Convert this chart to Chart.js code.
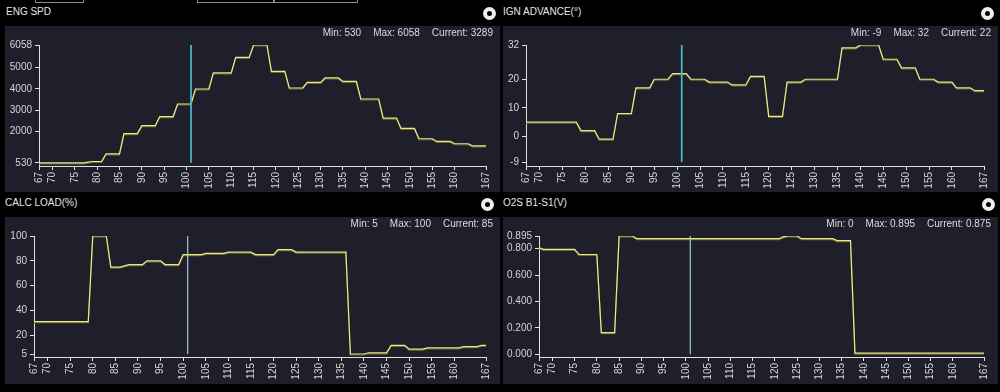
<!DOCTYPE html>
<html>
<head>
<meta charset="utf-8">
<script src="https://cdn.jsdelivr.net/npm/chart.js@4.4.1/dist/chart.umd.min.js"></script>
<style>
  body { margin:0; background:#000; width:1000px; height:392px; overflow:hidden; position:relative;
         font-family:"Liberation Sans", Arial, sans-serif; color:#e6e6e6; }
  .tab { position:absolute; top:-19px; height:20px; border:1px solid #8c8c8c; }
  .title { position:absolute; font-size:10px; line-height:13px; white-space:nowrap; }
  .panel { position:absolute; width:495px; background:#1f1e2b; }
  .panel canvas { position:absolute; left:0; top:0; }
  .stats { position:absolute; right:7px; top:0; font-size:10px; line-height:13px; color:#dcdcdc; white-space:nowrap; }
  .stats span { margin-left:12px; }
  .dot { position:absolute; width:5px; height:5px; border:4px solid #eeeeee; border-radius:50%; background:#000; }
</style>
</head>
<body>
<div class="tab" style="left:35px;width:47px"></div>
<div class="tab" style="left:197px;width:75px"></div>
<div class="tab" style="left:274px;width:82px"></div>

<div class="title" style="left:6px;top:5px">ENG SPD</div>
<div class="dot" style="left:483px;top:7px"></div>
<div class="panel" style="left:5px;top:26px;height:166px">
  <canvas id="engChart" width="495" height="166"></canvas>
  <div class="stats"><span>Min: 530</span><span>Max: 6058</span><span>Current: 3289</span></div>
</div>

<div class="title" style="left:503px;top:5px">IGN ADVANCE(°)</div>
<div class="dot" style="left:981px;top:7px"></div>
<div class="panel" style="left:503px;top:26px;height:166px">
  <canvas id="ignChart" width="495" height="166"></canvas>
  <div class="stats"><span>Min: -9</span><span>Max: 32</span><span>Current: 22</span></div>
</div>

<div class="title" style="left:5px;top:196px">CALC LOAD(%)</div>
<div class="dot" style="left:481px;top:198px"></div>
<div class="panel" style="left:5px;top:217px;height:167px">
  <canvas id="loadChart" width="495" height="167"></canvas>
  <div class="stats"><span>Min: 5</span><span>Max: 100</span><span>Current: 85</span></div>
</div>

<div class="title" style="left:503px;top:196px">O2S B1-S1(V)</div>
<div class="dot" style="left:982px;top:198px"></div>
<div class="panel" style="left:503px;top:217px;height:167px">
  <canvas id="o2sChart" width="495" height="167"></canvas>
  <div class="stats"><span>Min: 0</span><span>Max: 0.895</span><span>Current: 0.875</span></div>
</div>

<script>
// sample index (x axis)
var timeIdx = [67,68,69,70,71,72,73,74,75,76,77,78,79,80,81,82,83,84,85,86,87,88,89,90,
  91,92,93,94,95,96,97,98,99,100,101,102,103,104,105,106,107,108,109,110,111,112,113,114,115,
  116,117,118,119,120,121,122,123,124,125,126,127,128,129,130,131,132,133,134,135,136,137,138,
  139,140,141,142,143,144,145,146,147,148,149,150,151,152,153,154,155,156,157,158,159,160,161,
  162,163,164,165,166,167];
var xTicks = [67,70,75,80,85,90,95,100,105,110,115,120,125,130,135,140,145,150,155,160,167];
var cursorAt = 101;

var engSpd = [530,530,530,530,530,530,530,530,530,530,530,560,590,590,590,
  950,950,950,950,1900,1900,1900,1900,2270,2270,2270,2270,2700,2700,2700,2700,
  3289,3289,3289,3289,3994,3994,3994,3994,4746,4746,4746,4746,4746,5479,5479,5479,5479,
  6058,6058,6058,6058,4821,4821,4821,4821,4041,4041,4041,4041,4304,4304,4304,4304,
  4511,4511,4511,4511,4351,4351,4351,4351,3524,3524,3524,3524,3524,2631,2631,2631,2631,
  2142,2142,2142,2142,1658,1658,1658,1658,1531,1531,1531,1531,1423,1423,1423,1423,
  1329,1329,1329,1329];
var engTicks = [530,2000,3000,4000,5000,6058];

var ignAdv = [5,5,5,5,5,5,5,5,5,5,5,5,2,2,2,2,-1,-1,-1,-1,8,8,8,8,17,17,17,17,
  20,20,20,20,22,22,22,22,20,20,20,20,19,19,19,19,19,18,18,18,18,21,21,21,21,
  7,7,7,7,19,19,19,19,20,20,20,20,20,20,20,20,31,31,31,31,32,32,32,32,32,
  27,27,27,27,24,24,24,24,20,20,20,20,19,19,19,19,17,17,17,17,16,16,16];
var ignTicks = [-9,0,10,20,32];

var calcLoad = [31,31,31,31,31,31,31,31,31,31,31,31,31,100,100,100,100,75,75,75,76,
  77,77,77,77,80,80,80,80,77,77,77,77,85,85,85,85,85,86,86,86,86,86,87,87,87,87,87,87,
  85,85,85,85,85,89,89,89,89,87,87,87,87,87,87,87,87,87,87,87,87,
  5,5,5,5,6,6,6,6,6,12,12,12,12,9,9,9,9,10,10,10,10,10,10,10,10,11,11,11,11,12,12];
var loadTicks = [5,20,40,60,80,100];

var o2sVolt = [0.807,0.794,0.794,0.794,0.794,0.794,0.794,0.794,0.794,
  0.755,0.755,0.755,0.755,0.755,0.165,0.165,0.165,0.165,0.895,0.895,0.895,0.895,
  0.875,0.875,0.875,0.875,0.875,0.875,0.875,0.875,0.875,0.875,0.875,0.875,0.875,0.875,0.875,
  0.875,0.875,0.875,0.875,0.875,0.875,0.875,0.875,0.875,0.875,0.875,0.875,0.875,0.875,0.875,
  0.875,0.875,0.875,0.89,0.895,0.895,0.895,0.875,0.875,0.875,0.875,0.875,0.875,0.875,0.875,
  0.86,0.86,0.86,0.86,
  0.01,0.01,0.01,0.01,0.01,0.01,0.01,0.01,0.01,0.01,0.01,0.01,0.01,0.01,0.01,
  0.01,0.01,0.01,0.01,0.01,0.01,0.01,0.01,0.01,0.01,0.01,0.01,0.01,0.01,0.01];
var o2sTicks = [0,0.2,0.4,0.6,0.8,0.895];

Chart.defaults.font.family = '"Liberation Sans", Arial, sans-serif';
Chart.defaults.font.size = 10;

// dark olive edge under the yellow trace
var lineShadow = {
  id: 'lineShadow',
  beforeDatasetDraw: function(chart, args) {
    if (args.index !== 1) return;
    var c = chart.ctx;
    c.save();
    c.shadowColor = '#6f6c2e';
    c.shadowOffsetX = 0;
    c.shadowOffsetY = 1;
    c.shadowBlur = 0;
  },
  afterDatasetDraw: function(chart, args) {
    if (args.index === 1) chart.ctx.restore();
  }
};

function drawPanel(id, values, yTicks, yMin, yMax, axisWidth, xHeight, fmt, cursorColor, cursorWidth) {
  var points = timeIdx.map(function(t, i) { return {x: t, y: values[i]}; });
  return new Chart(document.getElementById(id), {
    type: 'line',
    data: {
      datasets: [{
        data: [{x: cursorAt, y: yTicks[0]}, {x: cursorAt, y: yMax}],
        borderColor: cursorColor,
        borderWidth: cursorWidth,
        pointRadius: 0,
        order: 0
      }, {
        data: points,
        borderColor: '#ecea88',
        borderWidth: 1.2,
        pointRadius: 0,
        tension: 0,
        order: 1
      }]
    },
    options: {
      responsive: false,
      animation: false,
      events: [],
      layout: { padding: { top: 19, right: 10, left: 0, bottom: 0 } },
      plugins: { legend: { display: false }, tooltip: { enabled: false } },
      scales: {
        x: {
          type: 'linear', min: 67, max: 167,
          afterBuildTicks: function(s) { s.ticks = xTicks.map(function(v) { return {value: v}; }); },
          afterFit: function(s) { s.height = xHeight; },
          ticks: { color: '#d6d6d6', minRotation: 90, maxRotation: 90, padding: 2,
                   callback: function(v) { return String(v); } },
          grid: { drawOnChartArea: false, color: '#e2e2e2', tickLength: 4 },
          border: { color: '#e2e2e2' }
        },
        y: {
          min: yMin, max: yMax,
          afterBuildTicks: function(s) { s.ticks = yTicks.map(function(v) { return {value: v}; }); },
          afterFit: function(s) { s.width = axisWidth; },
          ticks: { color: '#d6d6d6', padding: 3, callback: fmt },
          grid: { drawOnChartArea: false, color: '#e2e2e2', tickLength: 4 },
          border: { color: '#e2e2e2' }
        }
      }
    },
    plugins: [lineShadow]
  });
}

var plain = function(v) { return String(v); };
var volts = function(v) { return v.toFixed(3); };

drawPanel('engChart', engSpd, engTicks, 380, 6058, 34, 26, plain, '#4fb3c2', 1.8);
drawPanel('ignChart', ignAdv, ignTicks, -10.4, 32, 23, 26, plain, '#4fb3c2', 1.8);
drawPanel('loadChart', calcLoad, loadTicks, 2.6, 100, 29, 27, plain, '#a6c6d2', 1.2);
drawPanel('o2sChart', o2sVolt, o2sTicks, -0.02, 0.895, 36, 27, volts, '#a6c6d2', 1.2);
</script>
</body>
</html>
